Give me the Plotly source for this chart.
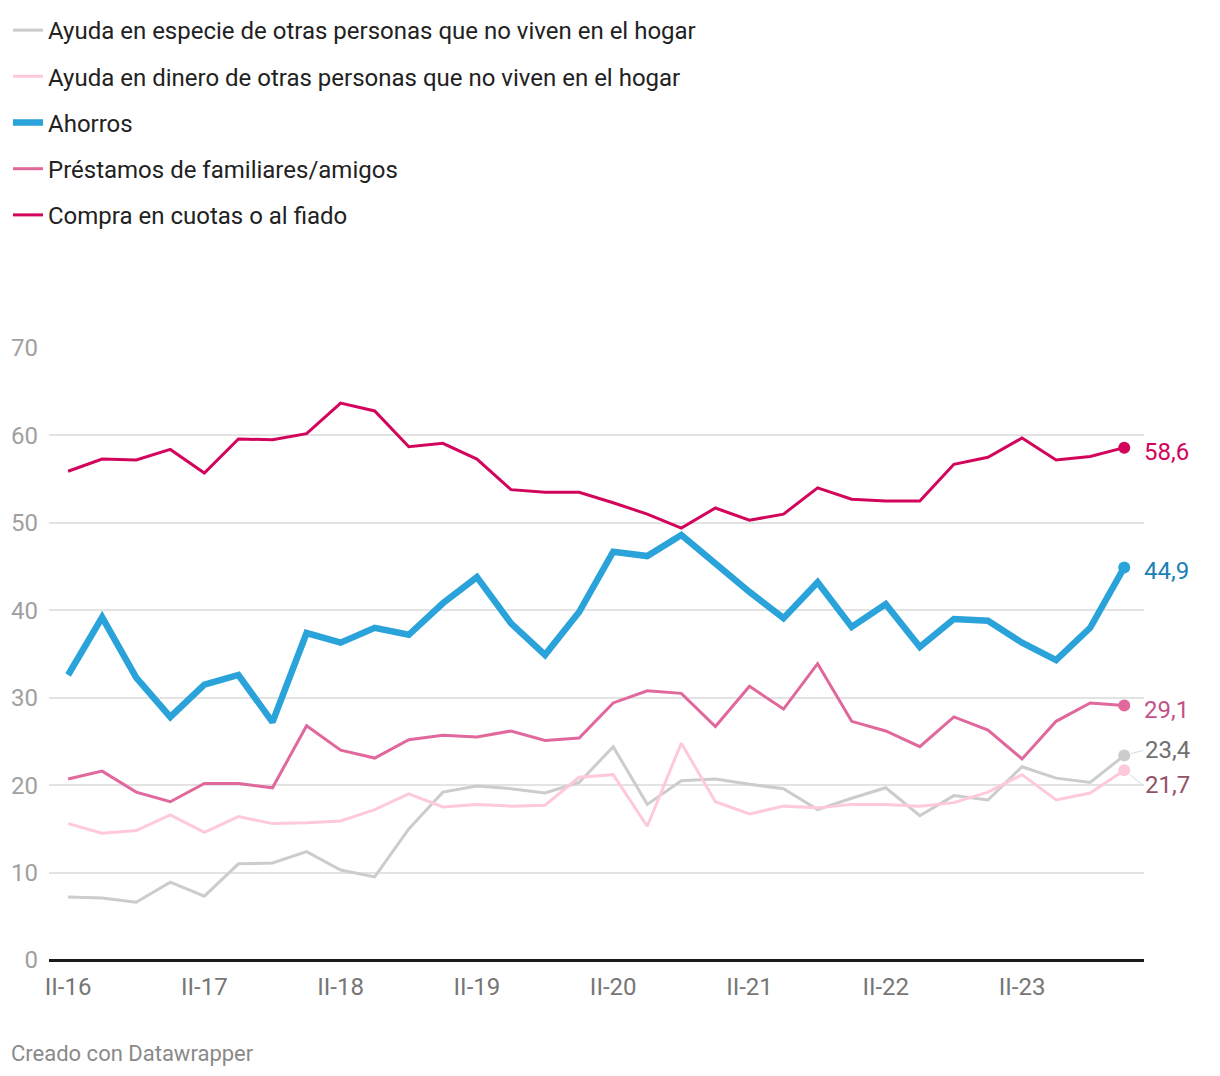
import plotly.graph_objects as go

quarters = ["II-16", "III-16", "IV-16", "I-17", "II-17", "III-17", "IV-17", "I-18",
            "II-18", "III-18", "IV-18", "I-19", "II-19", "III-19", "IV-19", "I-20",
            "II-20", "III-20", "IV-20", "I-21", "II-21", "III-21", "IV-21", "I-22",
            "II-22", "III-22", "IV-22", "I-23", "II-23", "III-23", "IV-23", "I-24"]

especie = [7.2, 7.1, 6.6, 8.9, 7.3, 11.0, 11.1, 12.4, 10.3, 9.5, 15.0, 19.2, 19.9, 19.6, 19.1, 20.3,
           24.4, 17.8, 20.5, 20.7, 20.1, 19.6, 17.2, 18.5, 19.7, 16.5, 18.8, 18.3, 22.1, 20.8, 20.3, 23.4]
dinero = [15.6, 14.5, 14.8, 16.6, 14.6, 16.4, 15.6, 15.7, 15.9, 17.2, 19.0, 17.5, 17.8, 17.6, 17.7, 20.9,
          21.2, 15.3, 24.8, 18.1, 16.7, 17.6, 17.4, 17.8, 17.8, 17.6, 18.0, 19.2, 21.2, 18.3, 19.1, 21.7]
ahorros = [32.6, 39.2, 32.3, 27.8, 31.5, 32.6, 27.2, 37.4, 36.3, 38.0, 37.2, 40.8, 43.8, 38.5, 34.9, 39.8,
           46.7, 46.2, 48.6, 45.3, 42.1, 39.1, 43.2, 38.1, 40.7, 35.8, 39.0, 38.8, 36.3, 34.3, 38.0, 44.9]
prestamos = [20.7, 21.6, 19.2, 18.1, 20.2, 20.2, 19.7, 26.8, 24.0, 23.1, 25.2, 25.7, 25.5, 26.2, 25.1, 25.4,
             29.4, 30.8, 30.5, 26.7, 31.3, 28.7, 33.9, 27.3, 26.2, 24.4, 27.8, 26.3, 23.0, 27.3, 29.4, 29.1]
compra = [55.9, 57.3, 57.2, 58.4, 55.7, 59.6, 59.5, 60.2, 63.7, 62.8, 58.7, 59.1, 57.3, 53.8, 53.5, 53.5,
          52.3, 51.0, 49.4, 51.7, 50.3, 51.0, 54.0, 52.7, 52.5, 52.5, 56.7, 57.5, 59.7, 57.2, 57.6, 58.6]

names = ["Ayuda en especie de otras personas que no viven en el hogar",
         "Ayuda en dinero de otras personas que no viven en el hogar",
         "Ahorros",
         "Préstamos de familiares/amigos",
         "Compra en cuotas o al fiado"]
series = [especie, dinero, ahorros, prestamos, compra]
line_colors = ["#cccccc", "#ffc9dc", "#2aa2da", "#e0689c", "#d3045b"]
label_colors = ["#707070", "#935268", "#1a80b6", "#c4518a", "#d3045b"]
widths = [3, 3, 6.5, 3, 3]
label_shift = [-5, 15, 0, 0, 0]

x_ticks = quarters[::4]
y_ticks = [0, 10, 20, 30, 40, 50, 60, 70]

FONT = "Roboto"
fig = go.Figure()
for i, (nm, ys) in enumerate(zip(names, series)):
    fig.add_trace(go.Scatter(
        x=list(range(len(quarters))), y=ys, mode="lines", name=nm,
        line=dict(color=line_colors[i], width=widths[i]),
        legendgroup=f"g{i}", hoverinfo="skip"))
    fig.add_trace(go.Scatter(
        x=[len(quarters) - 1], y=[ys[-1]], mode="markers", showlegend=False,
        marker=dict(color=line_colors[i], size=12), hoverinfo="skip"))
    lab = f"{ys[-1]:.1f}".replace(".", ",")
    if label_shift[i] != 0:
        fig.add_annotation(x=len(quarters) - 1, y=ys[-1], text=lab, xanchor="left",
                           showarrow=True, arrowhead=0, arrowwidth=1, arrowcolor="#dadada",
                           ax=19, ay=label_shift[i], standoff=7,
                           font=dict(family=FONT, size=24, color=label_colors[i]))
    else:
        fig.add_annotation(x=len(quarters) - 1, y=ys[-1], text=lab, xanchor="left",
                           showarrow=False, xshift=18, yshift=-4,
                           font=dict(family=FONT, size=24, color=label_colors[i]))

fig.add_annotation(xref="paper", yref="paper", x=-0.0365, y=-0.152, xanchor="left", yanchor="middle",
                   text="Creado con Datawrapper", showarrow=False,
                   font=dict(family=FONT, size=22, color="#8a8a8a"))

fig.update_layout(
    width=1212, height=1068,
    margin=dict(l=41, r=76, t=340, b=116, autoexpand=False),
    paper_bgcolor="white", plot_bgcolor="white",
    font=dict(family=FONT, size=24, color="#222222"),
    showlegend=True,
    legend=dict(xref="container", yref="container", x=0.0, y=1.0, yanchor="top", xanchor="left",
                traceorder="grouped", tracegroupgap=12, font=dict(family=FONT, size=24, color="#222222"),
                bgcolor="rgba(0,0,0,0)", itemclick=False, itemdoubleclick=False),
    xaxis=dict(range=[-0.56, 31.58], tickmode="array",
               tickvals=[quarters.index(t) for t in x_ticks], ticktext=x_ticks,
               showgrid=False, zeroline=False, showline=False, ticks="", ticklabelstandoff=10,
               tickfont=dict(family=FONT, size=24, color="#767676"), fixedrange=True),
    yaxis=dict(range=[0, 70], tickvals=y_ticks, showgrid=True, gridcolor="#e3e3e3", gridwidth=1.5,
               zeroline=True, zerolinecolor="#1a1a1a", zerolinewidth=2.5, ticks="", ticklabelstandoff=10,
               tickfont=dict(family=FONT, size=24, color="#a0a0a0"), fixedrange=True),
)

fig.write_html("out.html")
